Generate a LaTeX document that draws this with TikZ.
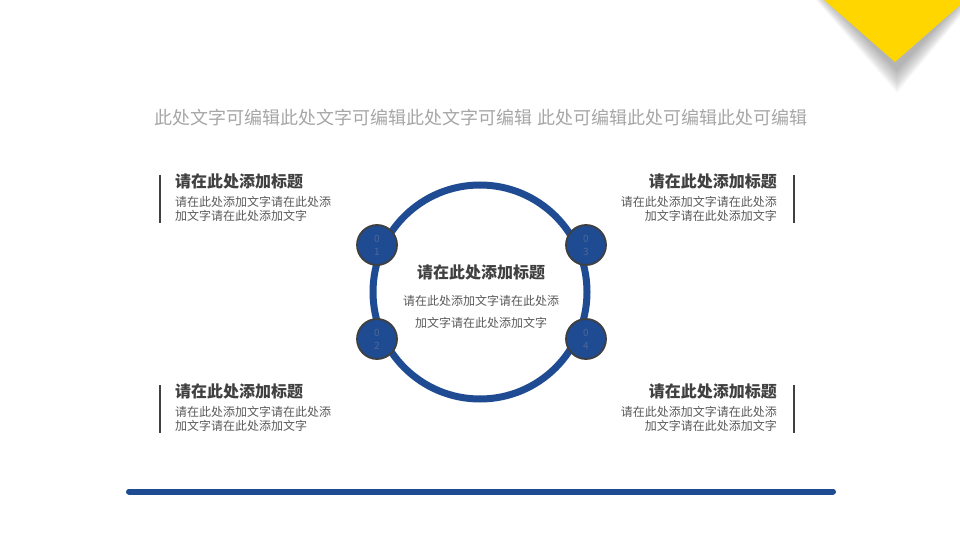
\documentclass[tikz,border=0pt]{standalone}
\usepackage{fontspec}
\setmainfont{Noto Sans CJK SC}
\usepackage{tikz}
\usetikzlibrary{positioning}

\definecolor{ringblue}{RGB}{30,75,145}
\definecolor{titlegray}{RGB}{64,64,64}
\definecolor{bodygray}{RGB}{89,89,89}
\definecolor{topgray}{RGB}{166,166,166}
\definecolor{cornergold}{RGB}{255,214,0}
\definecolor{digitblue}{RGB}{78,104,152}

\tikzset{
  heading/.style={font=\bfseries\fontsize{16}{18}\selectfont, text=titlegray, inner sep=0pt},
  bodytext/.style={font=\fontsize{12}{14}\selectfont, text=bodygray, inner sep=0pt},
  badge/.style={circle, draw=titlegray, line width=1.8pt, fill=ringblue, minimum size=40pt,
    inner sep=0pt, text=digitblue, font=\fontsize{10}{13}\selectfont, align=center},
  sidebar/.style={titlegray, line width=2pt}
}

\begin{document}
\begin{tikzpicture}[x=1pt, y=-1pt]

\useasboundingbox (0,0) rectangle (960,540);
\clip (0,0) rectangle (960,540);

% Corner triangle with soft shadow
\foreach \k in {1,...,22} {
  \pgfmathsetmacro{\e}{\k-10}
  \fill[black, opacity=0.015] (823-0.6*\e,0) -- (897,80+1.1*\e) -- (967+0.6*\e,0) -- cycle;
}
\fill[cornergold] (823,-1) -- (895,62) -- (967,-1) -- cycle;

% Top line of text
\node[font=\fontsize{18}{20}\selectfont, text=topgray, inner sep=0pt] (subtitle) at (481,118)
  {此处文字可编辑此处文字可编辑此处文字可编辑 此处可编辑此处可编辑此处可编辑};

% Ring
\draw[ringblue, line width=7pt] (480,292) circle[radius=107];

% Badges on the ring
\node[badge] (b1) at (377,245) {0\\1};
\node[badge] (b2) at (377,339) {0\\2};
\node[badge] (b3) at (586,245) {0\\3};
\node[badge] (b4) at (586,339) {0\\4};

% Centre text
\node[heading] (c-title) at (481,272) {请在此处添加标题};
\node[bodytext, font=\fontsize{12}{22}\selectfont, align=center, below=15pt of c-title] (c-body)
  {请在此处添加文字请在此处添\\加文字请在此处添加文字};

% Upper left
\node[heading, anchor=west] (tl-title) at (175,181) {请在此处添加标题};
\node[bodytext, align=left, below right=7pt and 0pt of tl-title.south west] (tl-body)
  {请在此处添加文字请在此处添\\加文字请在此处添加文字};
\draw[sidebar] (160,175) -- (160,223);

% Upper right
\node[heading, anchor=east] (tr-title) at (777,181) {请在此处添加标题};
\node[bodytext, align=right, below left=7pt and 0pt of tr-title.south east] (tr-body)
  {请在此处添加文字请在此处添\\加文字请在此处添加文字};
\draw[sidebar] (794,175) -- (794,223);

% Lower left
\node[heading, anchor=west] (bl-title) at (175,391) {请在此处添加标题};
\node[bodytext, align=left, below right=7pt and 0pt of bl-title.south west] (bl-body)
  {请在此处添加文字请在此处添\\加文字请在此处添加文字};
\draw[sidebar] (160,385) -- (160,433);

% Lower right
\node[heading, anchor=east] (br-title) at (777,391) {请在此处添加标题};
\node[bodytext, align=right, below left=7pt and 0pt of br-title.south east] (br-body)
  {请在此处添加文字请在此处添\\加文字请在此处添加文字};
\draw[sidebar] (794,385) -- (794,433);

% Bottom bar
\draw[ringblue, line width=6pt, line cap=round] (129,491.5) -- (833,491.5);

\end{tikzpicture}
\end{document}
